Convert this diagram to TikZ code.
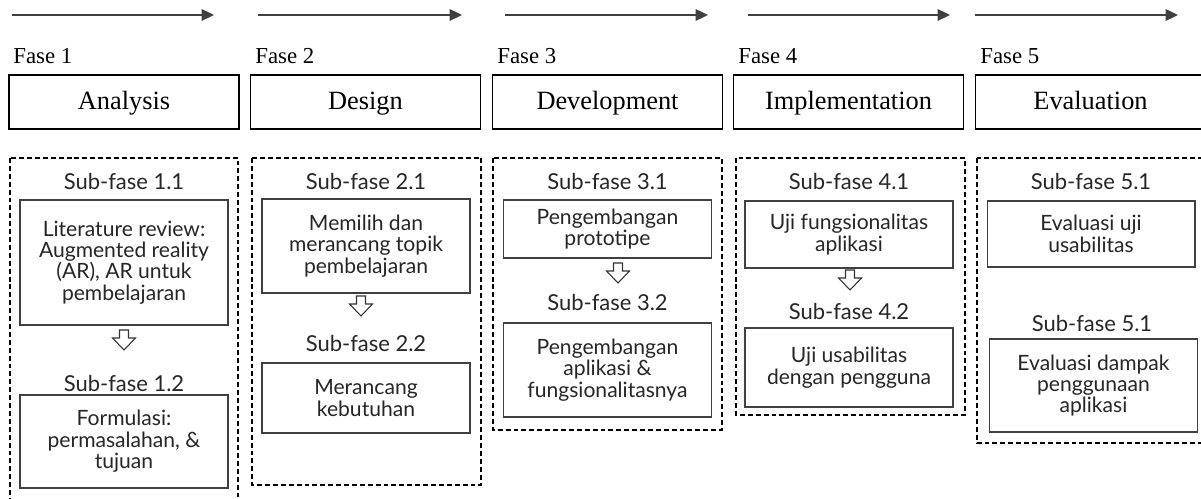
\documentclass[tikz,border=0pt]{standalone}
\usepackage{fontspec}
\setmainfont{Liberation Serif}
\newfontfamily\subfont{Lato}
\usetikzlibrary{arrows.meta}
\definecolor{linegray}{HTML}{404040}

\begin{document}
\begin{tikzpicture}[x=0.02cm, y=-0.02cm,
	phase/.style={rectangle, draw=black, line width=1.1pt, minimum width=4.6cm, minimum height=1.08cm, text height=0.9em, text depth=0.1em, font=\fontsize{15}{17}\selectfont},
	fase/.style={anchor=base west, inner sep=0pt, font=\fontsize{13}{15}\selectfont},
	group/.style={draw=black, line width=1.1pt, dash pattern=on 2.8pt off 1.7pt},
	sublabel/.style={anchor=base, inner sep=0pt, text=black!85, font=\subfont\fontsize{12.5}{12}\selectfont},
	task/.style={rectangle, draw=linegray, line width=0.6pt, minimum width=4.16cm, align=center, text=black!85, font=\subfont\fontsize{12}{12.2}\selectfont},
	flow/.style={draw=linegray, line width=1.1pt, -{Triangle[length=7pt, width=6.5pt]}},
	hollow/.style={draw=black!80, fill=white, line width=0.6pt}]
	\useasboundingbox (0,0) rectangle (1201,499);
	\clip (0,0) rectangle (1201,499);

	% time line
	\coordinate (flow-1-s) at (12,15);   \coordinate (flow-1-e) at (214,15);
	\coordinate (flow-2-s) at (258,15);  \coordinate (flow-2-e) at (462,15);
	\coordinate (flow-3-s) at (505,15);  \coordinate (flow-3-e) at (708,15);
	\coordinate (flow-4-s) at (748,15);  \coordinate (flow-4-e) at (950,15);
	\coordinate (flow-5-s) at (975,15);  \coordinate (flow-5-e) at (1178,15);
	\draw[flow] (flow-1-s) -- (flow-1-e);
	\draw[flow] (flow-2-s) -- (flow-2-e);
	\draw[flow] (flow-3-s) -- (flow-3-e);
	\draw[flow] (flow-4-s) -- (flow-4-e);
	\draw[flow] (flow-5-s) -- (flow-5-e);

	% phases
	\node[fase] (fase-1) at (13,64) {Fase 1};
	\node[fase] (fase-2) at (255,64) {Fase 2};
	\node[fase] (fase-3) at (497,64) {Fase 3};
	\node[fase] (fase-4) at (738,64) {Fase 4};
	\node[fase] (fase-5) at (980,64) {Fase 5};

	\node[phase] (phase-1) at (124,102) {Analysis};
	\node[phase] (phase-2) at (365.5,102) {Design};
	\node[phase] (phase-3) at (607.5,102) {Development};
	\node[phase] (phase-4) at (848.5,102) {Implementation};
	\node[phase] (phase-5) at (1090.5,102) {Evaluation};

	% sub-phase groups
	\draw[group] (10,158) rectangle (238,530);
	\draw[group] (252,158) rectangle (481,485);
	\draw[group] (493,158) rectangle (722,430);
	\draw[group] (736,158) rectangle (965,415);
	\draw[group] (977,158) rectangle (1220,443);

	\node[sublabel] (sub-1-1) at (124,190) {Sub-fase 1.1};
	\node[task, minimum height=2.5cm] (box-1-1) at (124,262.5) {Literature review:\\Augmented reality\\(AR), AR untuk\\pembelajaran};
	\node[sublabel] (sub-1-2) at (124,392) {Sub-fase 1.2};
	\node[task, minimum height=1.86cm] (box-1-2) at (124,441.5) {Formulasi:\\permasalahan, \&\\tujuan};

	\node[sublabel] (sub-2-1) at (366,190) {Sub-fase 2.1};
	\node[task, minimum height=1.88cm] (box-2-1) at (366,246) {Memilih dan\\merancang topik\\pembelajaran};
	\node[sublabel] (sub-2-2) at (366,352) {Sub-fase 2.2};
	\node[task, minimum height=1.4cm] (box-2-2) at (366,398) {Merancang\\kebutuhan};

	\node[sublabel] (sub-3-1) at (607.5,190) {Sub-fase 3.1};
	\node[task, minimum height=1.16cm] (box-3-1) at (607.5,229) {Pengembangan\\prototipe};
	\node[sublabel] (sub-3-2) at (607.5,311) {Sub-fase 3.2};
	\node[task, minimum height=1.88cm] (box-3-2) at (607.5,370) {Pengembangan\\aplikasi \&\\fungsionalitasnya};

	\node[sublabel] (sub-4-1) at (849,190) {Sub-fase 4.1};
	\node[task, minimum height=1.34cm] (box-4-1) at (849,234.5) {Uji fungsionalitas\\aplikasi};
	\node[sublabel] (sub-4-2) at (849,320) {Sub-fase 4.2};
	\node[task, minimum height=1.58cm] (box-4-2) at (849,367.5) {Uji usabilitas\\dengan pengguna};

	\node[sublabel] (sub-5-1) at (1091,190) {Sub-fase 5.1};
	\node[task, minimum height=1.32cm] (box-5-1) at (1091,234) {Evaluasi uji\\usabilitas};
	\node[sublabel] (sub-5-2) at (1092,332) {Sub-fase 5.1};
	\node[task, minimum height=1.86cm] (box-5-2) at (1093.5,385.5) {Evaluasi dampak\\penggunaan\\aplikasi};

	% hollow arrows between sub-phases
	\coordinate (down-1) at (124,330);
	\coordinate (down-2) at (361,296);
	\coordinate (down-3) at (618,263);
	\coordinate (down-4) at (850,270);
	\foreach \d in {down-1,down-2,down-3,down-4}
		\draw[hollow, shift={(\d)}] (-4.5,0) -- (-4.5,8) -- (-11.5,8) -- (0,20) -- (11.5,8) -- (4.5,8) -- (4.5,0) -- cycle;
\end{tikzpicture}
\end{document}
